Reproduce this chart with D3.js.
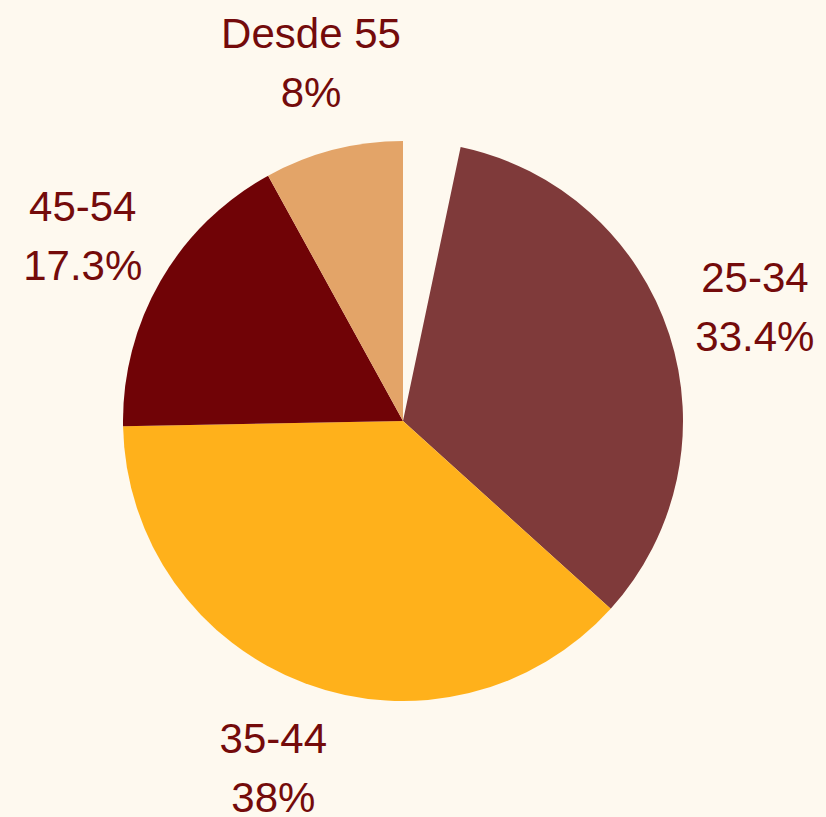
<!DOCTYPE html>
<html>
<head>
<meta charset="utf-8">
<script src="https://cdn.jsdelivr.net/npm/d3@7"></script>
<style>
  html, body { margin: 0; padding: 0; background: #fef9ef; }
  svg { display: block; }
</style>
</head>
<body>
<div id="chart"></div>
<script>
// slices in clockwise order from 12 o'clock; the first one is blank in the source
const categories = ["18-24", "25-34", "35-44", "45-54", "Desde 55"];
const shares = [3.3, 33.4, 38, 17.3, 8];
const colors = ["#fef9ef", "#7f3a3a", "#ffb11b", "#700306", "#e3a468"];
const showLabel = [false, true, true, true, true];

const width = 826, height = 817;
const cx = 403, cy = 421, radius = 280, labelRadius = 370;

const data = categories.map((c, i) => ({
  name: c,
  value: shares[i],
  color: colors[i],
  show: showLabel[i]
}));

const svg = d3
  .select("#chart")
  .append("svg")
  .attr("width", width)
  .attr("height", height);

svg.append("rect")
  .attr("width", width)
  .attr("height", height)
  .attr("fill", "#fef9ef");

const g = svg.append("g").attr("transform", `translate(${cx},${cy})`);

const pie = d3.pie().sort(null).value((d) => d.value);
const arcs = pie(data);

const arc = d3.arc().innerRadius(0).outerRadius(radius);
const labelArc = d3.arc().innerRadius(labelRadius).outerRadius(labelRadius);

g.selectAll("path")
  .data(arcs)
  .join("path")
  .attr("d", arc)
  .attr("fill", (d) => d.data.color);

const label = g
  .selectAll("text")
  .data(arcs.filter((d) => d.data.show))
  .join("text")
  .attr("transform", (d) => `translate(${labelArc.centroid(d)})`)
  .attr("text-anchor", "middle")
  .style("font-family", "'Liberation Sans', Arial, sans-serif")
  .style("font-size", "42px")
  .style("fill", "#740b0b");

label.append("tspan")
  .attr("x", 0)
  .attr("y", -15)
  .text((d) => d.data.name);

label.append("tspan")
  .attr("x", 0)
  .attr("y", 44)
  .text((d) => `${d.data.value}%`);
</script>
</body>
</html>
